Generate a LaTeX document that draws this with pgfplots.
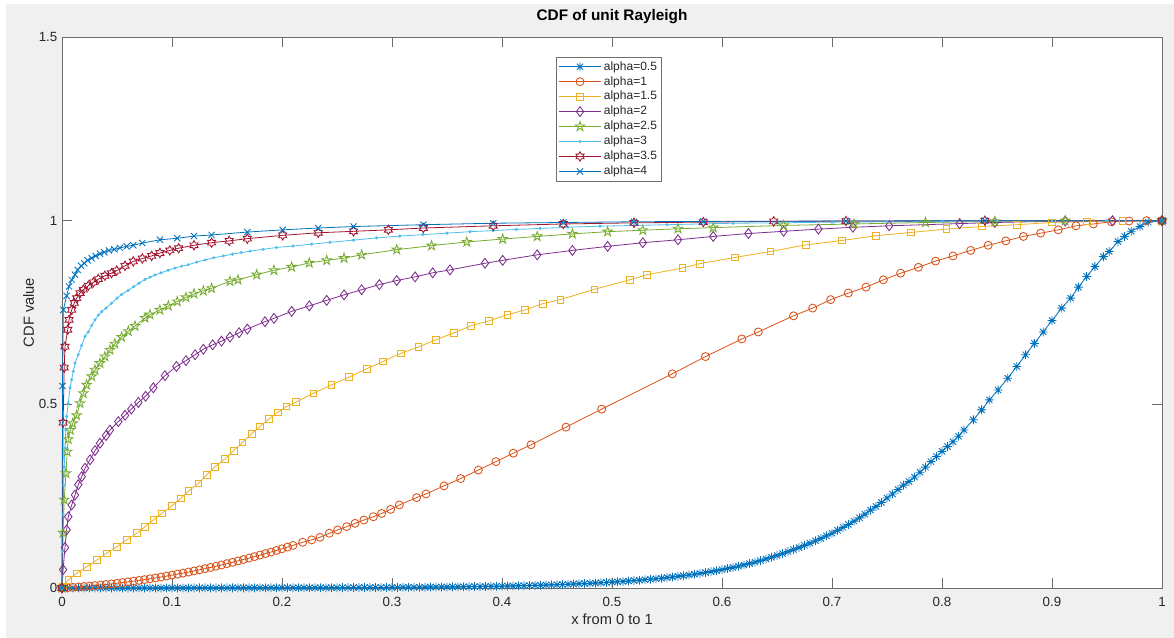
\documentclass[border=0pt]{standalone}
\usepackage{pgfplots}
\pgfplotsset{compat=1.18}
\usepackage{fontspec}
\setmainfont{Liberation Sans}
\definecolor{c1}{rgb}{0,0.447,0.741}
\definecolor{c2}{rgb}{0.85,0.325,0.098}
\definecolor{c3}{rgb}{0.929,0.694,0.125}
\definecolor{c4}{rgb}{0.494,0.184,0.556}
\definecolor{c5}{rgb}{0.466,0.674,0.188}
\definecolor{c6}{rgb}{0.301,0.745,0.933}
\definecolor{c7}{rgb}{0.635,0.078,0.184}
\definecolor{bggray}{HTML}{F0F0F0}
\definecolor{axcol}{HTML}{6E6E6E}
\definecolor{txtcol}{HTML}{262626}
\pgfdeclareplotmark{ast8}{%
 \pgfpathmoveto{\pgfqpoint{-\pgfplotmarksize}{0pt}}\pgfpathlineto{\pgfqpoint{\pgfplotmarksize}{0pt}}%
 \pgfpathmoveto{\pgfqpoint{0pt}{-\pgfplotmarksize}}\pgfpathlineto{\pgfqpoint{0pt}{\pgfplotmarksize}}%
 \pgfpathmoveto{\pgfqpoint{-.7071\pgfplotmarksize}{-.7071\pgfplotmarksize}}\pgfpathlineto{\pgfqpoint{.7071\pgfplotmarksize}{.7071\pgfplotmarksize}}%
 \pgfpathmoveto{\pgfqpoint{-.7071\pgfplotmarksize}{.7071\pgfplotmarksize}}\pgfpathlineto{\pgfqpoint{.7071\pgfplotmarksize}{-.7071\pgfplotmarksize}}%
 \pgfusepathqstroke}
\pgfdeclareplotmark{pentagram}{%
 \pgfpathmoveto{\pgfpointpolar{90}{\pgfplotmarksize}}%
 \pgfpathlineto{\pgfpointpolar{126}{.382\pgfplotmarksize}}%
 \pgfpathlineto{\pgfpointpolar{162}{\pgfplotmarksize}}%
 \pgfpathlineto{\pgfpointpolar{198}{.382\pgfplotmarksize}}%
 \pgfpathlineto{\pgfpointpolar{234}{\pgfplotmarksize}}%
 \pgfpathlineto{\pgfpointpolar{270}{.382\pgfplotmarksize}}%
 \pgfpathlineto{\pgfpointpolar{306}{\pgfplotmarksize}}%
 \pgfpathlineto{\pgfpointpolar{342}{.382\pgfplotmarksize}}%
 \pgfpathlineto{\pgfpointpolar{18}{\pgfplotmarksize}}%
 \pgfpathlineto{\pgfpointpolar{54}{.382\pgfplotmarksize}}%
 \pgfpathclose\pgfusepathqstroke}
\pgfdeclareplotmark{hexagram}{%
 \pgfpathmoveto{\pgfpointpolar{90}{\pgfplotmarksize}}%
 \pgfpathlineto{\pgfpointpolar{120}{.577\pgfplotmarksize}}%
 \pgfpathlineto{\pgfpointpolar{150}{\pgfplotmarksize}}%
 \pgfpathlineto{\pgfpointpolar{180}{.577\pgfplotmarksize}}%
 \pgfpathlineto{\pgfpointpolar{210}{\pgfplotmarksize}}%
 \pgfpathlineto{\pgfpointpolar{240}{.577\pgfplotmarksize}}%
 \pgfpathlineto{\pgfpointpolar{270}{\pgfplotmarksize}}%
 \pgfpathlineto{\pgfpointpolar{300}{.577\pgfplotmarksize}}%
 \pgfpathlineto{\pgfpointpolar{330}{\pgfplotmarksize}}%
 \pgfpathlineto{\pgfpointpolar{0}{.577\pgfplotmarksize}}%
 \pgfpathlineto{\pgfpointpolar{30}{\pgfplotmarksize}}%
 \pgfpathlineto{\pgfpointpolar{60}{.577\pgfplotmarksize}}%
 \pgfpathclose\pgfusepathqstroke}
\begin{document}
\begin{tikzpicture}
\fill[white] (0,0) rectangle (880.5pt,478.5pt);
\fill[bggray] (4.5pt,0) rectangle (880.5pt,475.5pt);
\begin{axis}[
 at={(46.5pt,37.5pt)}, anchor=south west,
 scale only axis, width=825pt, height=413.25pt,
 xmin=0, xmax=1, ymin=0, ymax=1.5,
 axis background/.style={fill=white},
 clip=false,
 xtick={0,0.1,0.2,0.3,0.4,0.5,0.6,0.7,0.8,0.9,1},
 xticklabels={0,0.1,0.2,0.3,0.4,0.5,0.6,0.7,0.8,0.9,1},
 ytick={0,0.5,1,1.5},
 yticklabels={0,0.5,1,1.5},
 tick align=inside, major tick length=7.5pt,
 axis line style={axcol, line width=0.6pt},
 tick style={axcol, line width=0.6pt},
 ticklabel style={font=\fontsize{10}{12}\selectfont, text=txtcol},
 xticklabel style={anchor=base, yshift=-14.25pt},
 /pgf/number format/assume math mode=true,
 title={CDF of unit Rayleigh},
 title style={font=\bfseries\fontsize{11.5}{13}\selectfont, text=black, at={(0.5,1)}, anchor=base, yshift=6pt},
 xlabel={x from 0 to 1},
 xlabel style={font=\fontsize{11}{13}\selectfont, text=txtcol, at={(0.5,0)}, anchor=base, yshift=-27.75pt},
 ylabel={CDF value},
 ylabel style={font=\fontsize{11}{13}\selectfont, text=txtcol, at={(axis description cs:-0.0303,0.5)}, anchor=center},
 every axis plot/.append style={line width=0.6pt, mark options={solid, line width=0.65pt}},
 legend cell align=left,
 legend image code/.code={\draw[mark repeat=2,mark phase=2] plot coordinates {(0pt,0pt)(16pt,0pt)(32pt,0pt)};},
 legend style={at={(0.449,0.964)}, anchor=north west, font=\fontsize{9}{10}\selectfont, draw=axcol, fill=white, inner sep=1.5pt, nodes={inner sep=1.6pt, text=txtcol}, line width=0.6pt},
]
\addplot[c1, mark=ast8, mark size=3.3pt] coordinates {
(0,0)(0.005,0)(0.01,0)(0.015,0)(0.02,0)(0.025,0)(0.03,0)(0.035,0)(0.04,0)(0.045,0)(0.05,0)(0.055,0)
(0.06,0.0001)(0.065,0.0001)(0.07,0.0001)(0.075,0.0001)(0.08,0.0001)(0.085,0.0001)(0.09,0.0002)(0.095,0.0002)
(0.1,0.0002)(0.105,0.0002)(0.11,0.0002)(0.115,0.0002)(0.12,0.0003)(0.125,0.0003)(0.13,0.0003)(0.135,0.0003)
(0.14,0.0003)(0.145,0.0003)(0.15,0.0003)(0.155,0.0004)(0.16,0.0004)(0.165,0.0004)(0.17,0.0004)(0.175,0.0004)
(0.18,0.0005)(0.185,0.0005)(0.19,0.0005)(0.195,0.0005)(0.2,0.0005)(0.205,0.0006)(0.21,0.0006)(0.215,0.0006)
(0.22,0.0007)(0.225,0.0007)(0.23,0.0007)(0.235,0.0008)(0.24,0.0008)(0.245,0.0009)(0.25,0.0009)(0.255,0.001)
(0.26,0.001)(0.265,0.0011)(0.27,0.0011)(0.275,0.0012)(0.28,0.0013)(0.285,0.0014)(0.29,0.0014)(0.295,0.0015)
(0.30,0.0016)(0.305,0.0017)(0.31,0.0018)(0.315,0.0019)(0.32,0.0021)(0.325,0.0022)(0.33,0.0023)(0.335,0.0025)
(0.34,0.0026)(0.345,0.0028)(0.35,0.0029)(0.355,0.0031)(0.36,0.0032)(0.365,0.0034)(0.37,0.0036)(0.375,0.0039)
(0.38,0.0041)(0.385,0.0043)(0.39,0.0046)(0.395,0.0048)(0.40,0.0051)(0.405,0.0054)(0.41,0.0057)(0.415,0.0061)
(0.42,0.0064)(0.425,0.0068)(0.43,0.0072)(0.435,0.0076)(0.44,0.0081)(0.445,0.0085)(0.45,0.0090)(0.455,0.0096)
(0.46,0.0101)(0.465,0.0107)(0.47,0.0114)(0.475,0.0120)(0.48,0.0127)(0.485,0.0135)(0.49,0.0143)(0.495,0.0151)
(0.50,0.0160)(0.505,0.0169)(0.51,0.0179)(0.515,0.0190)(0.52,0.0201)(0.525,0.0213)(0.53,0.0225)(0.535,0.0238)
(0.54,0.0252)(0.545,0.0267)(0.55,0.0283)(0.555,0.0300)(0.56,0.0317)(0.565,0.0336)(0.57,0.0355)(0.575,0.0376)
(0.58,0.0398)(0.585,0.0421)(0.59,0.0446)(0.595,0.0472)(0.60,0.0500)(0.605,0.0529)(0.61,0.0560)(0.615,0.0593)
(0.62,0.0628)(0.625,0.0665)(0.63,0.0704)(0.635,0.0745)(0.64,0.0789)(0.645,0.0835)(0.65,0.0884)(0.655,0.0936)
(0.66,0.0990)(0.665,0.1045)(0.67,0.1100)(0.675,0.1160)(0.68,0.1220)(0.685,0.1285)(0.69,0.1350)(0.695,0.142)
(0.70,0.149)(0.705,0.157)(0.71,0.165)(0.715,0.173)(0.72,0.182)(0.725,0.191)(0.73,0.201)(0.735,0.212)
(0.74,0.222)(0.745,0.233)(0.75,0.245)(0.755,0.256)(0.76,0.268)(0.765,0.280)(0.77,0.290)(0.775,0.302)
(0.78,0.315)(0.785,0.329)(0.79,0.344)(0.795,0.358)(0.80,0.372)(0.805,0.385)(0.81,0.398)(0.815,0.413)
(0.82,0.430)(0.8285,0.458)(0.836,0.485)(0.843,0.512)(0.851,0.539)(0.8597,0.571)(0.8679,0.603)(0.876,0.635)
(0.884,0.666)(0.892,0.697)(0.9,0.728)(0.9088,0.762)(0.917,0.789)(0.924,0.819)(0.9315,0.848)(0.939,0.875)
(0.9467,0.902)(0.952,0.916)(0.96,0.943)(0.966,0.957)(0.972,0.971)(0.98,0.984)(0.9875,0.996)(1,1)};
\addlegendentry{alpha=0.5}
\addplot[c2, mark=o, mark size=3pt] coordinates {
(0,0)(0.005,0.0009)(0.01,0.0018)(0.015,0.0029)(0.02,0.0041)(0.025,0.0053)(0.03,0.0066)(0.035,0.0081)
(0.04,0.0096)(0.045,0.0112)(0.05,0.0129)(0.055,0.0147)(0.06,0.0166)(0.065,0.0186)(0.07,0.0206)(0.075,0.0228)
(0.08,0.0251)(0.085,0.0274)(0.09,0.0298)(0.095,0.0324)(0.1,0.035)(0.105,0.0377)(0.11,0.0405)(0.115,0.0434)
(0.12,0.0464)(0.125,0.0495)(0.13,0.0527)(0.135,0.0559)(0.14,0.0593)(0.145,0.0627)(0.15,0.0663)(0.155,0.0699)
(0.16,0.0737)(0.165,0.0775)(0.17,0.0814)(0.175,0.0854)(0.18,0.0895)(0.185,0.0937)(0.19,0.0979)(0.195,0.1023)
(0.2,0.1068)(0.205,0.1114)(0.21,0.116)(0.2188,0.1245)(0.227,0.131)(0.2345,0.138)(0.243,0.149)(0.2506,0.158)
(0.2588,0.167)(0.2664,0.176)(0.2745,0.185)(0.283,0.194)(0.2906,0.203)(0.2988,0.214)(0.3067,0.226)(0.3224,0.246)
(0.3309,0.256)(0.3473,0.278)(0.3624,0.298)(0.3785,0.321)(0.3945,0.344)(0.4103,0.367)(0.4264,0.390)(0.4582,0.438)
(0.4906,0.487)(0.5548,0.583)(0.585,0.630)(0.618,0.678)(0.633,0.697)(0.665,0.741)(0.6824,0.762)(0.6988,0.785)
(0.7148,0.803)(0.7309,0.819)(0.7467,0.839)(0.7624,0.857)(0.7785,0.873)(0.7942,0.890)(0.810,0.904)(0.8261,0.919)
(0.842,0.933)(0.858,0.945)(0.874,0.957)(0.8897,0.966)(0.9057,0.975)(0.9218,0.986)(0.9376,0.991)(0.954,0.997)
(0.970,0.999)(0.986,1)(1,1)};
\addlegendentry{alpha=1}
\addplot[c3, mark=square, mark size=2.5pt] coordinates {
(0,0)(0.001,0.004)(0.0057,0.022)(0.0133,0.040)(0.0224,0.058)(0.0315,0.076)(0.0406,0.0945)(0.0497,0.1125)
(0.0588,0.131)(0.068,0.149)(0.0755,0.167)(0.083,0.185)(0.0906,0.203)(0.0997,0.223)(0.108,0.244)(0.115,0.264)
(0.124,0.285)(0.1315,0.308)(0.139,0.330)(0.148,0.351)(0.156,0.374)(0.164,0.396)(0.1725,0.42)(0.18,0.44)
(0.188,0.46)(0.196,0.478)(0.204,0.494)(0.2127,0.506)(0.2285,0.530)(0.245,0.553)(0.261,0.574)(0.277,0.597)
(0.292,0.617)(0.308,0.639)(0.324,0.656)(0.34,0.676)(0.356,0.694)(0.372,0.714)(0.388,0.727)(0.405,0.744)
(0.421,0.757)(0.437,0.774)(0.453,0.785)(0.484,0.813)(0.516,0.839)(0.532,0.853)(0.564,0.871)(0.58,0.883)
(0.612,0.900)(0.644,0.916)(0.676,0.934)(0.709,0.946)(0.74,0.959)(0.772,0.968)(0.804,0.977)(0.836,0.984)
(0.868,0.989)(0.9,0.995)(0.932,0.998)(0.964,1)(1,1)};
\addlegendentry{alpha=1.5}
\addplot[c4, mark=diamond, mark size=3.7pt] coordinates {
(0,0)(0.001,0.05)(0.0027,0.11)(0.0042,0.158)(0.0057,0.194)(0.0088,0.226)(0.0118,0.253)(0.0148,0.281)
(0.0179,0.303)(0.0209,0.326)(0.0255,0.349)(0.030,0.374)(0.0345,0.394)(0.040,0.415)(0.0436,0.430)(0.0512,0.453)
(0.0573,0.47)(0.063,0.487)(0.0694,0.505)(0.076,0.522)(0.083,0.545)(0.0936,0.578)(0.104,0.603)(0.1127,0.619)
(0.121,0.635)(0.1285,0.650)(0.137,0.662)(0.145,0.672)(0.1527,0.683)(0.161,0.695)(0.1685,0.705)(0.1845,0.725)
(0.1927,0.734)(0.2088,0.753)(0.2248,0.768)(0.2406,0.783)(0.2564,0.798)(0.2724,0.812)(0.2885,0.826)(0.3043,0.837)
(0.321,0.847)(0.337,0.858)(0.3527,0.866)(0.3845,0.884)(0.4006,0.892)(0.432,0.907)(0.464,0.919)(0.496,0.930)
(0.528,0.94)(0.56,0.948)(0.592,0.957)(0.624,0.965)(0.656,0.971)(0.6876,0.977)(0.719,0.982)(0.752,0.986)
(0.816,0.992)(0.848,0.995)(0.912,0.999)(0.955,1)(1,1)};
\addlegendentry{alpha=2}
\addplot[c5, mark=pentagram, mark size=3.7pt] coordinates {
(0,0)(0.001,0.15)(0.002,0.24)(0.0036,0.312)(0.0048,0.371)(0.0057,0.405)(0.0075,0.43)(0.0097,0.448)
(0.0133,0.47)(0.0164,0.503)(0.0194,0.530)(0.0224,0.553)(0.027,0.576)(0.030,0.594)(0.0345,0.612)(0.039,0.630)
(0.0436,0.648)(0.048,0.665)(0.0542,0.683)(0.0603,0.699)(0.0664,0.713)(0.0755,0.735)(0.08,0.744)(0.089,0.757)
(0.0967,0.768)(0.1048,0.780)(0.1127,0.791)(0.12,0.801)(0.1285,0.809)(0.136,0.816)(0.1527,0.835)(0.160,0.839)
(0.177,0.853)(0.1927,0.865)(0.2088,0.874)(0.2248,0.885)(0.2406,0.892)(0.2564,0.898)(0.2724,0.907)(0.3043,0.921)
(0.336,0.932)(0.368,0.942)(0.4006,0.950)(0.432,0.957)(0.464,0.964)(0.496,0.970)(0.528,0.974)(0.56,0.978)
(0.592,0.981)(0.656,0.987)(0.72,0.991)(0.785,0.995)(0.848,0.998)(0.912,1)(1,1)};
\addlegendentry{alpha=2.5}
\addplot[c6, mark=*, mark size=0.8pt] coordinates {
(0,0)(0.0005,0.1)(0.001,0.2)(0.0015,0.28)(0.002,0.33)(0.0027,0.381)(0.0035,0.43)(0.0042,0.467)
(0.0057,0.503)(0.0073,0.545)(0.0088,0.567)(0.0103,0.59)(0.0118,0.612)(0.0148,0.635)(0.0178,0.66)(0.0209,0.685)
(0.0239,0.697)(0.027,0.715)(0.030,0.73)(0.033,0.743)(0.036,0.752)(0.040,0.762)(0.045,0.775)(0.05,0.789)
(0.0542,0.799)(0.06,0.81)(0.065,0.82)(0.07,0.83)(0.0755,0.84)(0.08,0.846)(0.0845,0.852)(0.09,0.858)
(0.0965,0.865)(0.1027,0.871)(0.1087,0.876)(0.1148,0.880)(0.1224,0.887)(0.13,0.893)(0.138,0.899)(0.1467,0.904)
(0.155,0.909)(0.163,0.913)(0.171,0.917)(0.183,0.922)(0.195,0.927)(0.21,0.931)(0.227,0.936)(0.2436,0.941)
(0.265,0.947)(0.286,0.953)(0.307,0.958)(0.328,0.962)(0.35,0.966)(0.371,0.970)(0.392,0.973)(0.413,0.976)
(0.4345,0.979)(0.46,0.982)(0.489,0.985)(0.52,0.987)(0.55,0.989)(0.58,0.991)(0.61,0.993)(0.65,0.994)
(0.7,0.996)(0.75,0.997)(0.8,0.998)(0.85,0.999)(0.9,0.999)(0.95,1)(1,1)};
\addlegendentry{alpha=3}
\addplot[c7, mark=hexagram, mark size=3.5pt] coordinates {
(0,0)(0.001,0.45)(0.002,0.6)(0.0027,0.657)(0.0052,0.703)(0.0064,0.730)(0.0088,0.757)(0.0112,0.776)
(0.0133,0.789)(0.0164,0.803)(0.0194,0.812)(0.0239,0.823)(0.0285,0.832)(0.033,0.841)(0.039,0.850)(0.045,0.857)
(0.0497,0.864)(0.0573,0.877)(0.0648,0.889)(0.073,0.897)(0.0815,0.904)(0.089,0.912)(0.098,0.919)(0.106,0.925)
(0.120,0.933)(0.136,0.940)(0.152,0.945)(0.1685,0.951)(0.2006,0.960)(0.233,0.967)(0.265,0.971)(0.2967,0.975)
(0.3285,0.980)(0.392,0.986)(0.4557,0.991)(0.52,0.994)(0.583,0.996)(0.647,0.998)(0.7127,0.999)(0.839,1)(1,1)};
\addlegendentry{alpha=3.5}
\addplot[c1, mark=x, mark size=3.3pt] coordinates {
(0,0)(0.0005,0.55)(0.0012,0.757)(0.0042,0.795)(0.0064,0.821)(0.0088,0.839)(0.0118,0.853)(0.0142,0.866)
(0.0173,0.877)(0.0203,0.884)(0.0233,0.892)(0.027,0.898)(0.0306,0.904)(0.0345,0.910)(0.0385,0.914)(0.0427,0.919)
(0.0476,0.922)(0.0527,0.926)(0.0588,0.930)(0.0648,0.933)(0.073,0.939)(0.089,0.948)(0.1048,0.952)(0.120,0.958)
(0.136,0.961)(0.1685,0.969)(0.2006,0.975)(0.233,0.980)(0.265,0.984)(0.3285,0.989)(0.392,0.993)(0.4557,0.995)
(0.52,0.997)(0.583,0.998)(0.7127,0.999)(0.839,1)(1,1)};
\addlegendentry{alpha=4}
\end{axis}
\end{tikzpicture}
\end{document}
